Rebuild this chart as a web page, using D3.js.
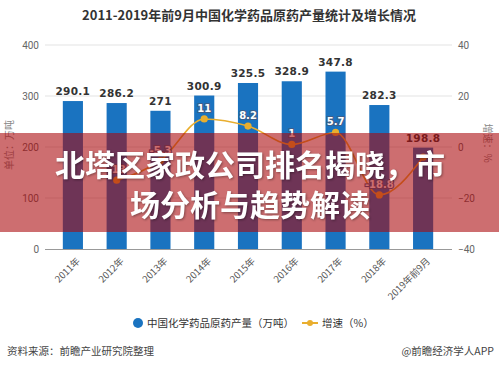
<!DOCTYPE html>
<html><head><meta charset="utf-8">
<script src="https://cdn.jsdelivr.net/npm/d3@7"></script>
<style>
html,body{margin:0;padding:0;background:#fff;}
svg{display:block;font-family:"Noto Sans CJK SC","Noto Sans",sans-serif;}
</style></head>
<body>
<svg id="c" width="499" height="367"></svg>
<script>
const categories = ["2011年","2012年","2013年","2014年","2015年","2016年","2017年","2018年","2019年前9月"];
const production = [290.1, 286.2, 271, 300.9, 325.5, 328.9, 347.8, 282.3, 198.8];
const growth = [null, -13, -5.3, 11, 8.2, 1, 5.7, -18.8, -4];
const growthLabelShown = [false, true, true, true, true, true, true, true, false];
const leftTicks = [0, 100, 200, 300, 400];
const rightTicks = [-40, -20, 0, 20, 40];
const title = "2011-2019年前9月中国化学药品原药产量统计及增长情况";
const overlayLines = ["北塔区家政公司排名揭晓，市", "场分析与趋势解读"];

const svg = d3.select("#c");
const W = 499, H = 367;
const plotTop = 45, plotBottom = 249, plotLeft = 51, plotRight = 445;

svg.append("rect").attr("width", W).attr("height", H).attr("fill", "#fff");

svg.append("text").attr("x", 249).attr("y", 20).attr("text-anchor", "middle")
  .attr("font-size", 13).attr("font-weight", "bold").attr("fill", "#333").text(title);

const x = d3.scaleBand().domain(categories).range([plotLeft, plotRight]).paddingInner(0.54).paddingOuter(0.27);
const yL = d3.scaleLinear().domain([0, 400]).range([plotBottom, plotTop]);
const yR = d3.scaleLinear().domain([-40, 40]).range([plotBottom, plotTop]);

// grid
svg.append("g").selectAll("line").data(leftTicks.slice(1)).join("line")
  .attr("x1", 45).attr("x2", 452).attr("y1", d => yL(d)).attr("y2", d => yL(d))
  .attr("stroke", "#e3e3e3").attr("stroke-width", 1);

// left axis
const gl = svg.append("g").attr("transform", `translate(45,0)`)
  .call(d3.axisLeft(yL).tickValues(leftTicks).tickSize(0).tickPadding(6));
gl.select(".domain").remove();
gl.selectAll("text").attr("font-size", 10).attr("fill", "#666").attr("font-family", "Roboto, 'Noto Sans', sans-serif");

// right axis
const gr = svg.append("g").attr("transform", `translate(452,0)`)
  .call(d3.axisRight(yR).tickValues(rightTicks).tickSize(0).tickPadding(6));
gr.select(".domain").remove();
gr.selectAll("text").attr("font-size", 10).attr("fill", "#666").attr("font-family", "Roboto, 'Noto Sans', sans-serif");

// x axis baseline
svg.append("line").attr("x1", 45).attr("x2", 452).attr("y1", plotBottom + 0.5).attr("y2", plotBottom + 0.5)
  .attr("stroke", "#999");

// axis titles
svg.append("text").attr("transform", "translate(13,145) rotate(-90)").attr("text-anchor", "middle")
  .attr("font-size", 10).attr("fill", "#888").text("单位：万吨");
svg.append("text").attr("transform", "translate(484,143) rotate(90)").attr("text-anchor", "middle")
  .attr("font-size", 10).attr("fill", "#888").text("增速：%");

// bars
svg.append("g").selectAll("rect").data(production).join("rect")
  .attr("x", (d, i) => x(categories[i])).attr("width", x.bandwidth())
  .attr("y", d => yL(d)).attr("height", d => plotBottom - yL(d))
  .attr("fill", "#1a73c0");

svg.append("g").selectAll("text").data(production).join("text")
  .attr("x", (d, i) => x(categories[i]) + x.bandwidth() / 2).attr("y", d => yL(d) - 6)
  .attr("text-anchor", "middle").attr("font-size", 10.5).attr("font-weight", "bold")
  .attr("fill", "#333").attr("font-family", "'DejaVu Sans', sans-serif").attr("letter-spacing", 0.3)
  .text(d => d);

// x labels
svg.append("g").selectAll("text").data(categories).join("text")
  .attr("transform", d => `translate(${x(d) + x.bandwidth() / 2 + 3},${plotBottom + 8}) rotate(-45)`)
  .attr("text-anchor", "end").attr("dy", "0.7em").attr("font-size", 9.5).attr("fill", "#555")
  .text(d => d);

// growth line
const pts = growth.map((g, i) => ({ c: categories[i], g, show: growthLabelShown[i] }));
const line = d3.line().defined(d => d.g !== null)
  .x(d => x(d.c) + x.bandwidth() / 2).y(d => yR(d.g)).curve(d3.curveMonotoneX);
svg.append("path").datum(pts).attr("d", line).attr("fill", "none")
  .attr("stroke", "#e9ae2e").attr("stroke-width", 1.6);
svg.append("g").selectAll("circle").data(pts.filter(d => d.g !== null)).join("circle")
  .attr("cx", d => x(d.c) + x.bandwidth() / 2).attr("cy", d => yR(d.g)).attr("r", 3.6)
  .attr("fill", "#e9ae2e");
svg.append("g").selectAll("text").data(pts.filter(d => d.g !== null && d.show)).join("text")
  .attr("x", d => x(d.c) + x.bandwidth() / 2).attr("y", d => yR(d.g) - 7)
  .attr("text-anchor", "middle").attr("font-size", 10).attr("font-weight", "bold")
  .attr("fill", "#fff").attr("stroke", "#3a5f8c").attr("stroke-width", 2.2).attr("paint-order", "stroke")
  .attr("font-family", "'DejaVu Sans', sans-serif")
  .text(d => d.g);

// legend
const lg = svg.append("g").attr("font-size", 10.5).attr("fill", "#333");
lg.append("circle").attr("cx", 138).attr("cy", 323).attr("r", 5).attr("fill", "#1a73c0");
lg.append("text").attr("x", 147).attr("y", 327).text("中国化学药品原药产量（万吨）");
lg.append("line").attr("x1", 302).attr("x2", 318).attr("y1", 323).attr("y2", 323).attr("stroke", "#e9ae2e").attr("stroke-width", 2);
lg.append("circle").attr("cx", 310).attr("cy", 323).attr("r", 3).attr("fill", "#e9ae2e");
lg.append("text").attr("x", 322).attr("y", 327).text("增速（%）");

// footer
svg.append("text").attr("x", 7).attr("y", 355).attr("font-size", 10.5).attr("fill", "#444").text("资料来源：前瞻产业研究院整理");
svg.append("text").attr("x", 494).attr("y", 355).attr("text-anchor", "end").attr("font-size", 10.5).attr("fill", "#444").text("@前瞻经济学人APP");

// overlay band
svg.append("rect").attr("x", 0).attr("y", 133).attr("width", W).attr("height", 99)
  .attr("fill", "rgb(170,8,12)").attr("fill-opacity", 0.59);
svg.append("g").selectAll("text").data(overlayLines).join("text")
  .attr("x", 250).attr("y", (d, i) => 176 + i * 40).attr("text-anchor", "middle")
  .attr("font-size", 30).attr("font-weight", "bold").attr("fill", "#fff")
  .attr("style", "filter: drop-shadow(1px 1px 1px rgba(0,0,0,0.35))")
  .text(d => d);
</script>
</body></html>
